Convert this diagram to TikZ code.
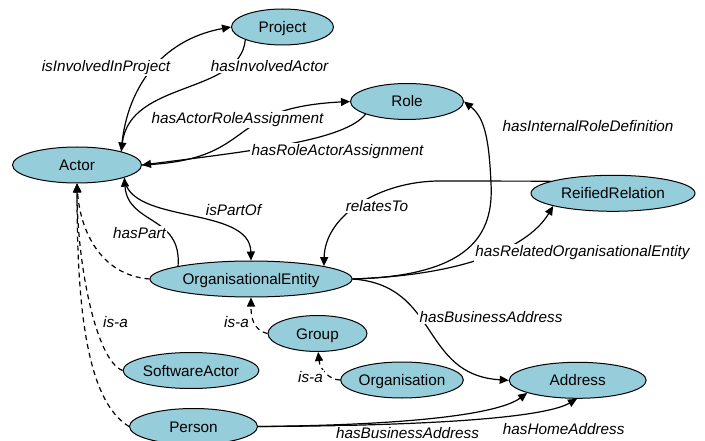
\documentclass[tikz,border=0pt]{standalone}
\usepackage{fontspec}
\setmainfont{Liberation Sans}
\usetikzlibrary{shapes.geometric, arrows.meta}
\definecolor{clsfill}{RGB}{150,205,218}

\begin{document}
\begin{tikzpicture}[x=1pt, y=-1pt,
  font=\fontsize{15.3pt}{18pt}\selectfont,
  cls/.style={ellipse, draw, fill=clsfill, line width=1pt, minimum height=36pt,
              inner sep=0pt, text height=11pt, text depth=0pt},
  rel/.style={line width=1.2pt, -{Triangle[length=9pt,width=8pt]}},
  isa/.style={rel, dash pattern=on 5pt off 4pt},
  lbl/.style={font=\fontsize{15.3pt}{18pt}\selectfont\itshape, fill=white,
              inner sep=1.5pt, anchor=base}
]
\useasboundingbox (0,0) rectangle (705,441);

% classes
\node[cls, minimum width=102pt] (project)      at (282.5,27)    {Project};
\node[cls, minimum width=113pt] (role)         at (407,101.5)   {Role};
\node[cls, minimum width=129pt] (actor)        at (77,165)      {Actor};
\node[cls, minimum width=164pt] (reified)      at (613,193.3)   {ReifiedRelation};
\node[cls, minimum width=202pt] (orgent)       at (251,279)     {OrganisationalEntity};
\node[cls, minimum width=99pt]  (group)        at (317.5,333.5) {Group};
\node[cls, minimum width=134pt] (swactor)      at (191,370.5)   {SoftwareActor};
\node[cls, minimum width=103pt] (organisation) at (402,380)     {Organisation};
\node[cls, minimum width=137pt] (address)      at (577.7,380.3) {Address};
\node[cls, minimum width=128pt] (person)       at (193.5,426.5) {Person};

% object properties
\draw[rel] (actor.17) .. controls (125,90) and (160,40) .. (project.west);
\draw[rel] (project.-161) .. controls (240,95) and (130,80) .. (actor.17);
\draw[rel] (actor.east) .. controls (260,160) and (220,108) .. (role.west);
\draw[rel] (role.197) .. controls (345,140) and (260,150) .. (actor.east);
\draw[rel] (orgent.east) .. controls (470,276) and (494,235) .. (491,183)
           .. controls (489,140) and (485,118) .. (role.east);
\draw[rel] (reified.169) -- (440,181) .. controls (380,181) and (325,215) .. (orgent.10);
\draw[rel] (orgent.east) .. controls (470,275) and (530,245) .. (reified.192);
\draw[rel] (orgent.east) .. controls (440,285) and (420,375) .. (address.west);
\draw[rel] (actor.-15) .. controls (128,225) and (250,205) .. (orgent.north);
\draw[rel] (orgent.170) .. controls (182,215) and (128,225) .. (actor.-15);
\draw[rel] (person.east) .. controls (420,425) and (500,413) .. (address.194);
\draw[rel] (person.east) .. controls (400,426) and (540,420) .. (address.-92);

% subclass links
\draw[isa] (orgent.west) .. controls (100,275) and (80,230) .. (actor.south);
\draw[isa] (swactor.west) .. controls (95,360) and (77,260) .. (actor.south);
\draw[isa] (person.west) .. controls (85,400) and (77,300) .. (actor.south);
\draw[isa] (group.west) .. controls (252,330) and (251,315) .. (orgent.south);
\draw[isa] (organisation.west) .. controls (330,380) and (320,370) .. (group.-88);

% property names
\node[lbl] (lInvProj)  at (106,71.5)   {isInvolvedInProject};
\node[lbl] (lInvAct)   at (269.5,71.5) {hasInvolvedActor};
\node[lbl] (lActRole)  at (237.5,123.5){hasActorRoleAssignment};
\node[lbl] (lRoleAct)  at (337.5,155.5){hasRoleActorAssignment};
\node[lbl] (lIntRole)  at (588,131.5)  {hasInternalRoleDefinition};
\node[lbl] (lRelTo)    at (377,211.5)  {relatesTo};
\node[lbl] (lPartOf)   at (233.5,215.5){isPartOf};
\node[lbl] (lHasPart)  at (139.5,239)  {hasPart};
\node[lbl] (lRelOrg)   at (582.5,257)  {hasRelatedOrganisationalEntity};
\node[lbl] (lBusOrg)   at (491,322)    {hasBusinessAddress};
\node[lbl] (lIsaAct)   at (115.5,327)  {is-a};
\node[lbl] (lIsaOrg)   at (236.5,327)  {is-a};
\node[lbl] (lIsaGrp)   at (310.5,382.5){is-a};
\node[lbl] (lHome)     at (563.7,434)  {hasHomeAddress};
\node[lbl, inner sep=0.5pt] (lBusPer) at (407.5,438) {hasBusinessAddress};
\end{tikzpicture}
\end{document}
